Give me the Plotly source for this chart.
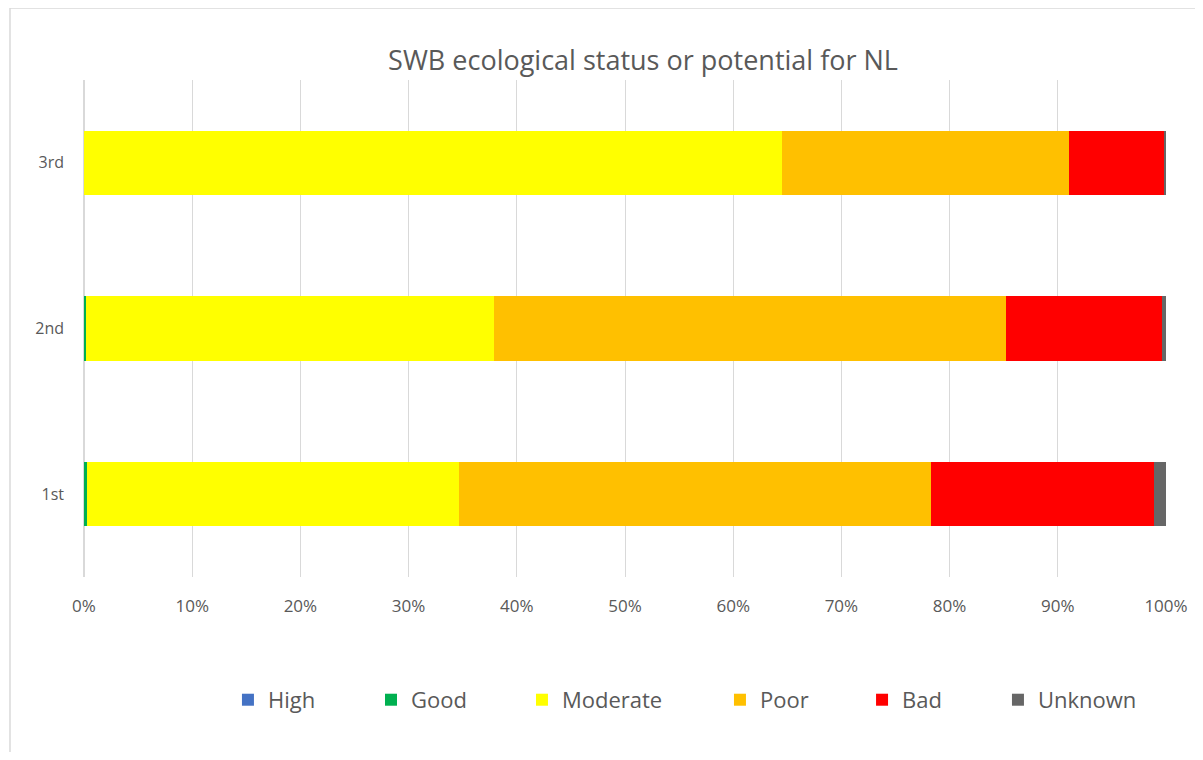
import plotly.graph_objects as go

# Cycles de gestion (axe vertical)
cycles = ["1st", "2nd", "3rd"]

# Part des masses d'eau par état écologique (%)
high = [0.0, 0.0, 0.0]
good = [0.3, 0.15, 0.03]
moderate = [34.4, 37.75, 64.5]
poor = [43.6, 47.3, 26.5]
bad = [20.6, 14.4, 8.8]
unknown = [1.1, 0.4, 0.17]

series = [
    ("High", high, "#4472c4"),
    ("Good", good, "#00b050"),
    ("Moderate", moderate, "#ffff00"),
    ("Poor", poor, "#ffc000"),
    ("Bad", bad, "#ff0000"),
    ("Unknown", unknown, "#666666"),
]

grey = "#595959"
font_family = "Open Sans, Liberation Sans, sans-serif"

# position horizontale de chaque entrée de légende (fraction de la figure)
legend_x = [0.1853, 0.3058, 0.4330, 0.5998, 0.7195, 0.8340]

fig = go.Figure()
legends = {}
for i, (name, values, color) in enumerate(series):
    key = "legend" if i == 0 else f"legend{i + 1}"
    fig.add_trace(go.Bar(
        name=name,
        y=cycles,
        x=values,
        orientation="h",
        marker=dict(color=color, line=dict(width=0)),
        legend=key,
        showlegend=True,
    ))
    legends[key] = dict(
        orientation="h",
        xref="container", yref="container",
        x=legend_x[i], xanchor="left",
        y=0.07, yanchor="middle",
        font=dict(size=22, color=grey),
        itemwidth=30,
        bgcolor="rgba(0,0,0,0)",
    )

fig.update_layout(
    barmode="stack",
    bargap=0.61,
    width=1187,
    height=744,
    showlegend=True,
    margin=dict(l=76, r=29, t=72, b=175),
    paper_bgcolor="white",
    plot_bgcolor="white",
    font=dict(family=font_family, color=grey),
    title=dict(
        text="SWB ecological status or potential for NL",
        x=0.535, xanchor="center",
        y=0.93, yanchor="middle",
        font=dict(size=27, color=grey),
    ),
    xaxis=dict(
        range=[0, 100],
        dtick=10,
        ticksuffix="%",
        showgrid=True,
        gridcolor="#d9d9d9",
        gridwidth=1,
        zeroline=True,
        zerolinecolor="#d9d9d9",
        showline=False,
        tickfont=dict(size=17, color=grey),
        ticks="",
        ticklabelstandoff=17,
        automargin=False,
    ),
    yaxis=dict(
        showgrid=False,
        zeroline=False,
        showline=False,
        ticks="",
        tickfont=dict(size=16, color=grey),
        ticklabelstandoff=19,
        automargin=False,
    ),
    shapes=[dict(
        type="rect", xref="paper", yref="paper",
        x0=-0.0684, x1=1.06, y0=-0.42, y1=1.145,
        line=dict(color="#d9d9d9", width=1.5),
        fillcolor="rgba(0,0,0,0)", layer="below",
    )],
    **legends,
)

fig.write_html("out.html")
